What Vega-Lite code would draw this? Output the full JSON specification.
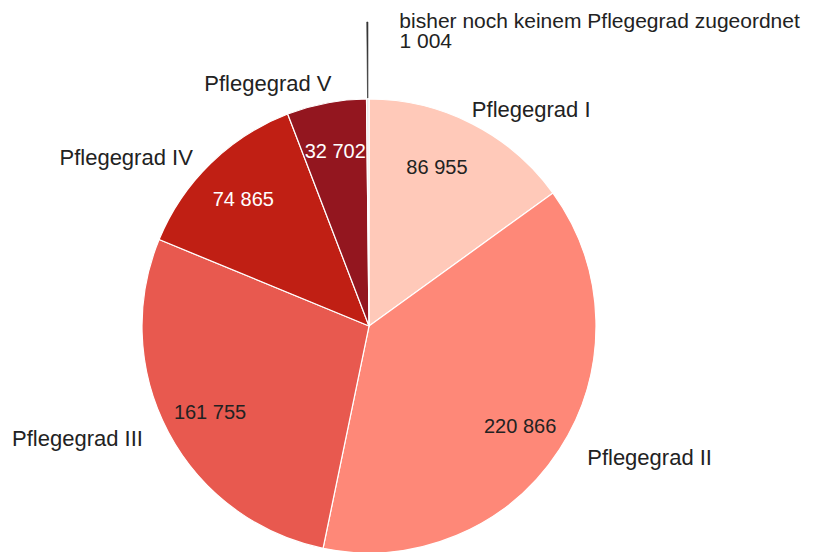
{
  "$schema": "https://vega.github.io/schema/vega-lite/v6.json",
  "width": 738,
  "height": 452,
  "autosize": {"type": "none"},
  "padding": {"left": 0, "top": 100, "right": 91, "bottom": 0},
  "background": "white",
  "config": {
    "view": {"stroke": null},
    "locale": {"number": {"decimal": ",", "thousands": " ", "grouping": [3], "currency": ["", " €"]}},
    "text": {"font": "Liberation Sans"}
  },
  "data": {
    "values": [
      {"nr": 1, "grad": "Pflegegrad I", "wert": 86955},
      {"nr": 2, "grad": "Pflegegrad II", "wert": 220866},
      {"nr": 3, "grad": "Pflegegrad III", "wert": 161755},
      {"nr": 4, "grad": "Pflegegrad IV", "wert": 74865},
      {"nr": 5, "grad": "Pflegegrad V", "wert": 32702},
      {"nr": 6, "grad": "bisher noch keinem Pflegegrad zugeordnet", "wert": 1004}
    ]
  },
  "encoding": {
    "theta": {"field": "wert", "type": "quantitative", "stack": true},
    "order": {"field": "nr", "type": "quantitative"}
  },
  "layer": [
    {
      "mark": {"type": "arc", "outerRadius": 227, "stroke": "white", "strokeWidth": 1.2},
      "encoding": {
        "color": {
          "field": "grad",
          "type": "nominal",
          "scale": {
            "domain": ["Pflegegrad I", "Pflegegrad II", "Pflegegrad III", "Pflegegrad IV", "Pflegegrad V", "bisher noch keinem Pflegegrad zugeordnet"],
            "range": ["#ffc9b9", "#fe8878", "#e8594f", "#c01f14", "#93161f", "#e4e4e4"]
          },
          "legend": null
        }
      }
    },
    {
      "mark": {"type": "arc", "innerRadius": 228, "outerRadius": 304, "padAngle": 0.0055, "stroke": "#333", "strokeWidth": 0.6, "fill": "#333"},
      "encoding": {
        "detail": {"field": "grad"},
        "opacity": {"condition": {"test": "datum.nr == 6", "value": 1}, "value": 0}
      }
    },
    {
      "mark": {"type": "text", "radius": 180, "fontSize": 20, "baseline": "middle", "align": "center", "dx": -14, "dy": 2},
      "encoding": {
        "detail": {"field": "grad"},
        "text": {"condition": {"test": "datum.nr == 1", "field": "wert", "type": "quantitative", "format": ",d"}, "value": ""},
        "color": {"value": "#222"}
      }
    },
    {
      "mark": {"type": "text", "radius": 180, "fontSize": 20, "baseline": "middle", "align": "center", "dy": 3},
      "encoding": {
        "detail": {"field": "grad"},
        "text": {"condition": {"test": "datum.nr > 1 && datum.nr < 6", "field": "wert", "type": "quantitative", "format": ",d"}, "value": ""},
        "color": {"condition": {"test": "datum.nr >= 4", "value": "white"}, "value": "#222"}
      }
    },
    {
      "mark": {"type": "text", "radius": 248, "fontSize": 22, "baseline": "middle", "align": "left", "color": "#222", "dx": -10, "dy": 5},
      "encoding": {
        "detail": {"field": "grad"},
        "text": {"condition": {"test": "datum.nr == 1", "field": "grad"}, "value": ""}
      }
    },
    {
      "mark": {"type": "text", "radius": 248, "fontSize": 22, "baseline": "middle", "align": "left", "color": "#222", "dx": 10, "dy": -3},
      "encoding": {
        "detail": {"field": "grad"},
        "text": {"condition": {"test": "datum.nr == 2", "field": "grad"}, "value": ""}
      }
    },
    {
      "mark": {"type": "text", "radius": 248, "fontSize": 22, "baseline": "middle", "align": "right", "color": "#222", "dx": -7, "dy": -3},
      "encoding": {
        "detail": {"field": "grad"},
        "text": {"condition": {"test": "datum.nr == 3", "field": "grad"}, "value": ""}
      }
    },
    {
      "mark": {"type": "text", "radius": 248, "fontSize": 22, "baseline": "middle", "align": "right", "color": "#222", "dx": -3, "dy": 10},
      "encoding": {
        "detail": {"field": "grad"},
        "text": {"condition": {"test": "datum.nr == 4", "field": "grad"}, "value": ""}
      }
    },
    {
      "mark": {"type": "text", "radius": 248, "fontSize": 22, "baseline": "middle", "align": "right", "color": "#222", "dx": 9, "dy": 2},
      "encoding": {
        "detail": {"field": "grad"},
        "text": {"condition": {"test": "datum.nr == 5", "field": "grad"}, "value": ""}
      }
    },
    {
      "mark": {"type": "text", "radius": 298, "fontSize": 21, "baseline": "alphabetic", "align": "left", "dx": 32, "color": "#222"},
      "encoding": {
        "detail": {"field": "grad"},
        "text": {"condition": {"test": "datum.nr == 6", "field": "grad"}, "value": ""}
      }
    },
    {
      "mark": {"type": "text", "radius": 278, "fontSize": 21, "baseline": "alphabetic", "align": "left", "dx": 32, "color": "#222"},
      "encoding": {
        "detail": {"field": "grad"},
        "text": {"condition": {"test": "datum.nr == 6", "field": "wert", "type": "quantitative", "format": ",d"}, "value": ""}
      }
    }
  ]
}
